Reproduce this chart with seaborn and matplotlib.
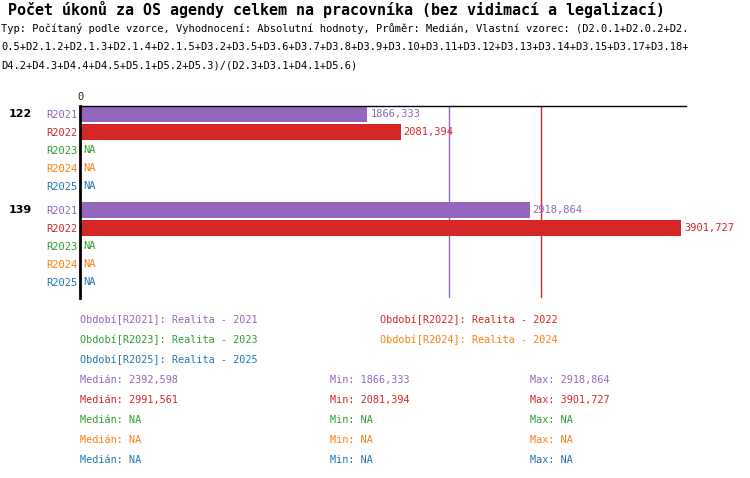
import numpy as np
import pandas as pd
import matplotlib
matplotlib.use("Agg")
import matplotlib.pyplot as plt
import matplotlib.transforms as mtransforms
import seaborn as sns

# --- Data ---
groups = ["122", "139"]
periods = ["R2021", "R2022", "R2023", "R2024", "R2025"]
period_names = ["Realita - 2021", "Realita - 2022", "Realita - 2023",
                "Realita - 2024", "Realita - 2025"]
colors = ["#9467bd", "#d62728", "#2ca02c", "#ff7f0e", "#1f77b4"]

r2021 = [1866.333, 2918.864]
r2022 = [2081.394, 3901.727]
r2023 = [np.nan, np.nan]
r2024 = [np.nan, np.nan]
r2025 = [np.nan, np.nan]
series = [r2021, r2022, r2023, r2024, r2025]

# medians as printed in the chart (computed there from unrounded data)
medians = [2392.598, 2991.561, np.nan, np.nan, np.nan]

title = "Počet úkonů za OS agendy celkem na pracovníka (bez vidimací a legalizací)"
subtitle = [
    "Typ: Počítaný podle vzorce, Vyhodnocení: Absolutní hodnoty, Průměr: Medián, Vlastní vzorec: (D2.0.1+D2.0.2+D2.",
    "0.5+D2.1.2+D2.1.3+D2.1.4+D2.1.5+D3.2+D3.5+D3.6+D3.7+D3.8+D3.9+D3.10+D3.11+D3.12+D3.13+D3.14+D3.15+D3.17+D3.18+",
    "D4.2+D4.3+D4.4+D4.5+D5.1+D5.2+D5.3)/(D2.3+D3.1+D4.1+D5.6)",
]

GROUP_STEP = 5.35


def fmt(v):
    if np.isnan(v):
        return "NA"
    return f"{v:.3f}".replace(".", ",")


# --- Long table ---
rows = []
for g_i, g in enumerate(groups):
    for p_i, p in enumerate(periods):
        rows.append({"group": g, "period": p, "pos": p_i + g_i * GROUP_STEP,
                     "value": series[p_i][g_i], "color": colors[p_i]})
df = pd.DataFrame(rows)
pal = dict(zip(periods, colors))

# --- Figure ---
sns.set_theme(style="white")
plt.rcParams["font.family"] = ["DejaVu Sans Mono", "DejaVu Sans"]

fig = plt.figure(figsize=(7.5, 4.78), dpi=100)
ax = fig.add_axes([80 / 750, 1 - 298 / 478, 606 / 750, 192 / 478])

# median lines
for p_i, med in enumerate(medians):
    if not np.isnan(med):
        ax.axvline(med, color=colors[p_i], lw=1, zorder=0)

present = df.dropna(subset=["value"])
sns.barplot(data=present, x="value", y="pos", hue="period",
            hue_order=[p for p in periods if p in set(present["period"])],
            palette=pal, orient="h", native_scale=True, width=0.89,
            errorbar=None, legend=False, saturation=1, linewidth=0, ax=ax)

# value labels
lab_trans = mtransforms.offset_copy(ax.transData, fig, x=3, y=0, units="dots")
for _, r in df.iterrows():
    x = 0 if np.isnan(r["value"]) else r["value"]
    ax.text(x, r["pos"], fmt(r["value"]), transform=lab_trans, ha="left",
            va="center", color=r["color"], fontsize=7.5)

ax.set_xlim(0, 3934)
ax.set_ylim(10.24, -0.444)
ax.set_xlabel("")
ax.set_ylabel("")
ax.xaxis.tick_top()
ax.set_xticks([0])
ax.set_xticklabels(["0"])
ax.tick_params(axis="x", length=0, pad=3, labelsize=7.5)
ax.set_yticks(df["pos"])
ax.set_yticklabels(df["period"])
for lbl, c in zip(ax.get_yticklabels(), df["color"]):
    lbl.set_color(c)
ax.tick_params(axis="y", length=0, pad=2, labelsize=7.5)

sns.despine(ax=ax, top=False, right=True, bottom=True, left=False)
ax.spines["top"].set_color("black")
ax.spines["top"].set_linewidth(1)
ax.spines["left"].set_color("black")
ax.spines["left"].set_linewidth(2)
ax.grid(False)

# group labels
gtrans = mtransforms.blended_transform_factory(fig.transFigure, ax.transData)
for g_i, g in enumerate(groups):
    ax.text(9 / 750, g_i * GROUP_STEP, g, transform=gtrans, ha="left", va="center",
            fontsize=8, fontweight="bold", family="DejaVu Sans", color="black")

# title and formula
fig.text(8 / 750, 1 - 10 / 478, title, fontsize=10.8, fontweight="bold",
         va="center", color="black")
for i, line in enumerate(subtitle):
    fig.text(1 / 750, 1 - (28 + 19 * i) / 478, line, fontsize=7.5, va="center",
             color="black")

# legend entries
for i, (p, name) in enumerate(zip(periods, period_names)):
    x = 80 + 300 * (i % 2)
    y = 320 + 20 * (i // 2)
    fig.text(x / 750, 1 - y / 478, f"Období[{p}]: {name}", color=colors[i],
             fontsize=7.3, va="center")

# statistics
for i, vals in enumerate(series):
    arr = np.array(vals, dtype=float)
    allnan = np.all(np.isnan(arr))
    mn = np.nan if allnan else np.nanmin(arr)
    mx = np.nan if allnan else np.nanmax(arr)
    y = 1 - (380 + 20 * i) / 478
    fig.text(80 / 750, y, f"Medián: {fmt(medians[i])}", color=colors[i], fontsize=7.3, va="center")
    fig.text(330 / 750, y, f"Min: {fmt(mn)}", color=colors[i], fontsize=7.3, va="center")
    fig.text(530 / 750, y, f"Max: {fmt(mx)}", color=colors[i], fontsize=7.3, va="center")

fig.savefig("out.png", dpi=100)
